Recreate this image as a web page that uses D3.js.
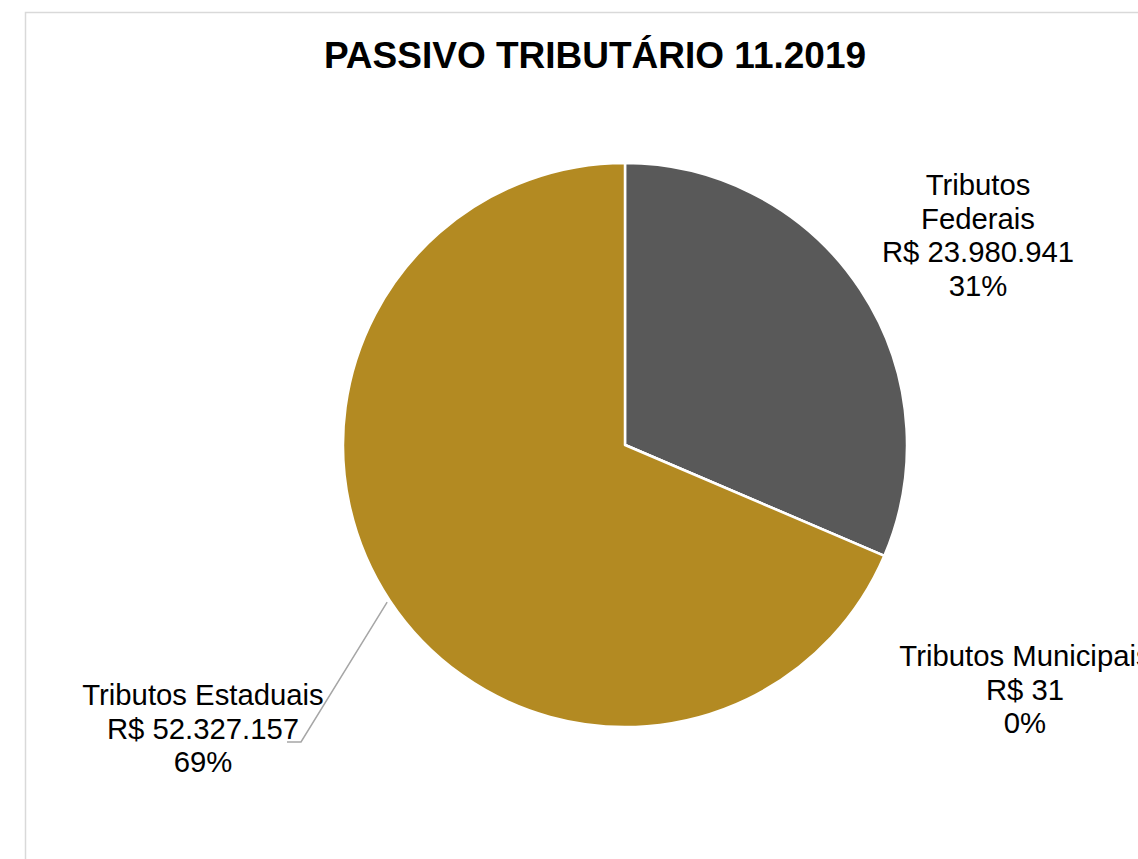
<!DOCTYPE html>
<html>
<head>
<meta charset="utf-8">
<script src="https://cdn.jsdelivr.net/npm/d3@7"></script>
<style>
html,body{margin:0;padding:0;background:#fff;overflow:hidden;}
svg{display:block;font-family:"Liberation Sans",Arial,sans-serif;}
</style>
</head>
<body>
<svg id="chart" width="1138" height="859"></svg>
<script>
const categories = ["Tributos Federais", "Tributos Municipais", "Tributos Estaduais"];
const values = [23980941, 31, 52327157];
const valueLabels = ["R$ 23.980.941", "R$ 31", "R$ 52.327.157"];
const percentLabels = ["31%", "0%", "69%"];
const colors = ["#595959", "#a5a5a5", "#b38a22"];
const title = "PASSIVO TRIBUTÁRIO 11.2019";

const svg = d3.select("#chart");
const W = 1138, H = 859;
svg.append("rect").attr("width", W).attr("height", H).attr("fill", "#fff");
svg.append("rect").attr("x", 25.5).attr("y", 12.5).attr("width", W + 20).attr("height", H + 20)
  .attr("fill", "#fff").attr("stroke", "#d9d9d9").attr("stroke-width", 1.5);

svg.append("text").attr("x", 595).attr("y", 68).attr("text-anchor", "middle")
  .attr("font-size", 37).attr("font-weight", "bold").attr("fill", "#000").text(title);

const cx = 625, cy = 445, r = 282;
const data = categories.map((c, i) => ({name: c, value: values[i], vl: valueLabels[i], pl: percentLabels[i], color: colors[i]}));
const pie = d3.pie().sort(null).value(d => d.value);
const arcs = pie(data);
const arc = d3.arc().innerRadius(0).outerRadius(r);
const g = svg.append("g").attr("transform", `translate(${cx},${cy})`);
g.selectAll("path").data(arcs).join("path")
  .attr("d", arc).attr("fill", d => d.data.color)
  .attr("stroke", "#fff").attr("stroke-width", 2.5).attr("stroke-linejoin", "round");

// label layout (positions relative to page)
const labelLayout = [
  {x: 978, y: 195, lines: ["Tributos", "Federais"]},
  {x: 1025, y: 666, lines: ["Tributos Municipais"]},
  {x: 203, y: 705, lines: ["Tributos Estaduais"]}
];
const lh = 33.5;
arcs.forEach((a, i) => {
  const L = labelLayout[i];
  const lines = L.lines.concat([a.data.vl, a.data.pl]);
  const t = svg.append("text").attr("text-anchor", "middle").attr("font-size", 29.3).attr("fill", "#000");
  lines.forEach((s, k) => {
    t.append("tspan").attr("x", L.x).attr("y", L.y + k * lh).text(s);
  });
});

// leader line for Estaduais
const est = arcs[2];
const mid = (est.startAngle + est.endAngle) / 2;
const p0 = [cx + (r + 3) * Math.sin(mid), cy - (r + 3) * Math.cos(mid)];
svg.append("polyline")
  .attr("points", [p0, [301, 742], [287, 742]].map(p => p.join(",")).join(" "))
  .attr("fill", "none").attr("stroke", "#a6a6a6").attr("stroke-width", 1.5);
</script>
</body>
</html>
